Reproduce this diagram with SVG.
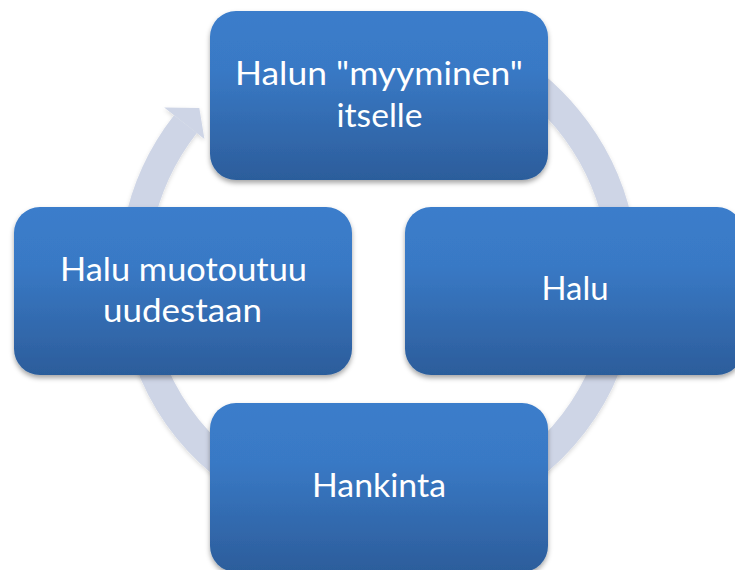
<svg xmlns="http://www.w3.org/2000/svg" width="735" height="570" viewBox="0 0 735 570">
  <defs>
    <linearGradient id="boxFill" x1="0" y1="0" x2="0" y2="1">
      <stop offset="0" stop-color="#3B7DCB"/>
      <stop offset="0.35" stop-color="#3979C5"/>
      <stop offset="1" stop-color="#2C5D9B"/>
    </linearGradient>
    <filter id="shadow" x="-10%" y="-10%" width="120%" height="130%">
      <feDropShadow dx="0" dy="3" stdDeviation="2.5" flood-color="#000000" flood-opacity="0.35"/>
    </filter>
    <filter id="ringShadow" x="-10%" y="-10%" width="120%" height="120%">
      <feDropShadow dx="0" dy="2" stdDeviation="2" flood-color="#000000" flood-opacity="0.15"/>
    </filter>
  </defs>
  <style>
    .box { fill: url(#boxFill); filter: url(#shadow); }
    .label { fill: #FFFFFF; font-family: Lato, "Open Sans", "Liberation Sans", sans-serif; font-size: 33px; text-anchor: middle; }
    .ring { fill: none; stroke: #CED5E6; stroke-width: 29; stroke-linecap: butt; }
    .head { fill: #CED5E6; }
  </style>
  <rect width="735" height="570" fill="#FFFFFF"/>
  <g id="connectors" filter="url(#ringShadow)">
    <path class="ring" d="M 227.66 81.94 A 245 245 0 1 1 185.44 124.16"/>
    <polygon class="head" points="164.2,107.5 199.3,107.9 204.4,138.9"/>
  </g>
  <g id="node-top">
    <rect class="box" x="210" y="11" width="338" height="169" rx="26" ry="26"/>
    <text class="label" x="379" y="85" textLength="288" lengthAdjust="spacingAndGlyphs">Halun "myyminen"</text>
    <text class="label" x="379.5" y="127" textLength="86" lengthAdjust="spacingAndGlyphs">itselle</text>
  </g>
  <g id="node-right">
    <rect class="box" x="405" y="207" width="338" height="168" rx="26" ry="26"/>
    <text class="label" x="575" y="300" textLength="67" lengthAdjust="spacingAndGlyphs">Halu</text>
  </g>
  <g id="node-bottom">
    <rect class="box" x="210" y="403" width="338" height="169" rx="26" ry="26"/>
    <text class="label" x="379" y="497" textLength="134" lengthAdjust="spacingAndGlyphs">Hankinta</text>
  </g>
  <g id="node-left">
    <rect class="box" x="14" y="207" width="338" height="168" rx="26" ry="26"/>
    <text class="label" x="183.5" y="281" textLength="247" lengthAdjust="spacingAndGlyphs">Halu muotoutuu</text>
    <text class="label" x="182.5" y="322" textLength="159" lengthAdjust="spacingAndGlyphs">uudestaan</text>
  </g>
</svg>
